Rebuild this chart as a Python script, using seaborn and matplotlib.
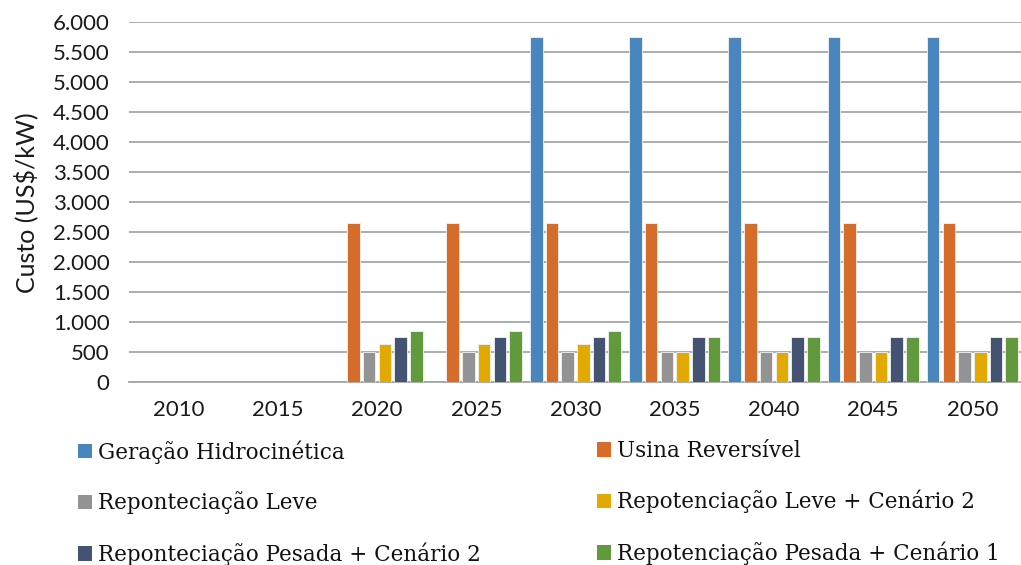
import numpy as np
import pandas as pd
import matplotlib
matplotlib.use("Agg")
import matplotlib.pyplot as plt
import seaborn as sns
from matplotlib.patches import Patch

years = ["2010", "2015", "2020", "2025", "2030", "2035", "2040", "2045", "2050"]

series_names = [
    "Geração Hidrocinética",
    "Usina Reversível",
    "Reponteciação Leve",
    "Repotenciação Leve + Cenário 2",
    "Reponteciação Pesada + Cenário 2",
    "Repotenciação Pesada + Cenário 1",
]

nan = np.nan
geracao_hidrocinetica = [nan, nan, nan, nan, 5760, 5760, 5760, 5760, 5760]
usina_reversivel = [nan, nan, 2650, 2650, 2650, 2650, 2650, 2650, 2650]
repot_leve = [nan, nan, 500, 500, 500, 500, 500, 500, 500]
repot_leve_c2 = [nan, nan, 640, 640, 640, 500, 500, 500, 500]
repot_pesada_c2 = [nan, nan, 750, 750, 750, 750, 750, 750, 750]
repot_pesada_c1 = [nan, nan, 860, 860, 860, 750, 750, 750, 750]

colors = ["#4A86BE", "#D56C2A", "#939393", "#E2A900", "#435371", "#61993D"]

values = [geracao_hidrocinetica, usina_reversivel, repot_leve,
          repot_leve_c2, repot_pesada_c2, repot_pesada_c1]

rows = []
for name, vals in zip(series_names, values):
    for yr, v in zip(years, vals):
        rows.append({"Ano": yr, "Série": name, "Custo": v})
df = pd.DataFrame(rows).dropna()

sns.set_style("white")
plt.rcParams["font.family"] = ["Lato", "DejaVu Sans"]

fig = plt.figure(figsize=(10.21, 5.65), dpi=100)
ax = fig.add_axes([129 / 1021, 1 - 382.3 / 565, (1022 - 129) / 1021, 360 / 565])

sns.barplot(data=df, x="Ano", y="Custo", hue="Série", order=years,
            hue_order=series_names, palette=colors, saturation=1,
            width=0.95, gap=0.2, errorbar=None, edgecolor="#F2F2F2",
            linewidth=0.6, legend=False, ax=ax, zorder=3)

ax.set_xlim(-0.5, len(years) - 0.5)
ax.set_ylim(0, 6000)
ticks = np.arange(0, 6001, 500)
ax.set_yticks(ticks)
ax.set_yticklabels([f"{int(v):,}".replace(",", ".") for v in ticks])
ax.yaxis.grid(True, color="#A6A6A6", linewidth=1.3, zorder=0)
ax.set_axisbelow(True)
for s in ["top", "right", "left"]:
    ax.spines[s].set_visible(False)
ax.spines["bottom"].set_color("#A6A6A6")
ax.spines["bottom"].set_linewidth(1.3)
ax.tick_params(axis="both", length=0, labelsize=16, colors="#1a1a1a")
ax.tick_params(axis="y", pad=14)
ax.tick_params(axis="x", pad=13)
ax.set_xlabel("")
ax.set_ylabel("Custo (US$/kW)", fontsize=18, color="#1a1a1a", labelpad=10)

handles = [Patch(facecolor=c, edgecolor="none") for c in colors]
legend_kw = dict(frameon=False, prop={"family": "DejaVu Serif", "size": 15.5},
                 labelcolor="#111111",
                 handlelength=0.65, handleheight=0.65, handletextpad=0.28,
                 labelspacing=1.3, borderaxespad=0, borderpad=0,
                 loc="upper left")
fig.legend([handles[i] for i in (0, 2, 4)], [series_names[i] for i in (0, 2, 4)],
           bbox_to_anchor=(78 / 1021, 1 - 440 / 565), **legend_kw)
fig.legend([handles[i] for i in (1, 3, 5)], [series_names[i] for i in (1, 3, 5)],
           bbox_to_anchor=(597 / 1021, 1 - 440 / 565), **legend_kw)

fig.savefig("out.png", dpi=100)
